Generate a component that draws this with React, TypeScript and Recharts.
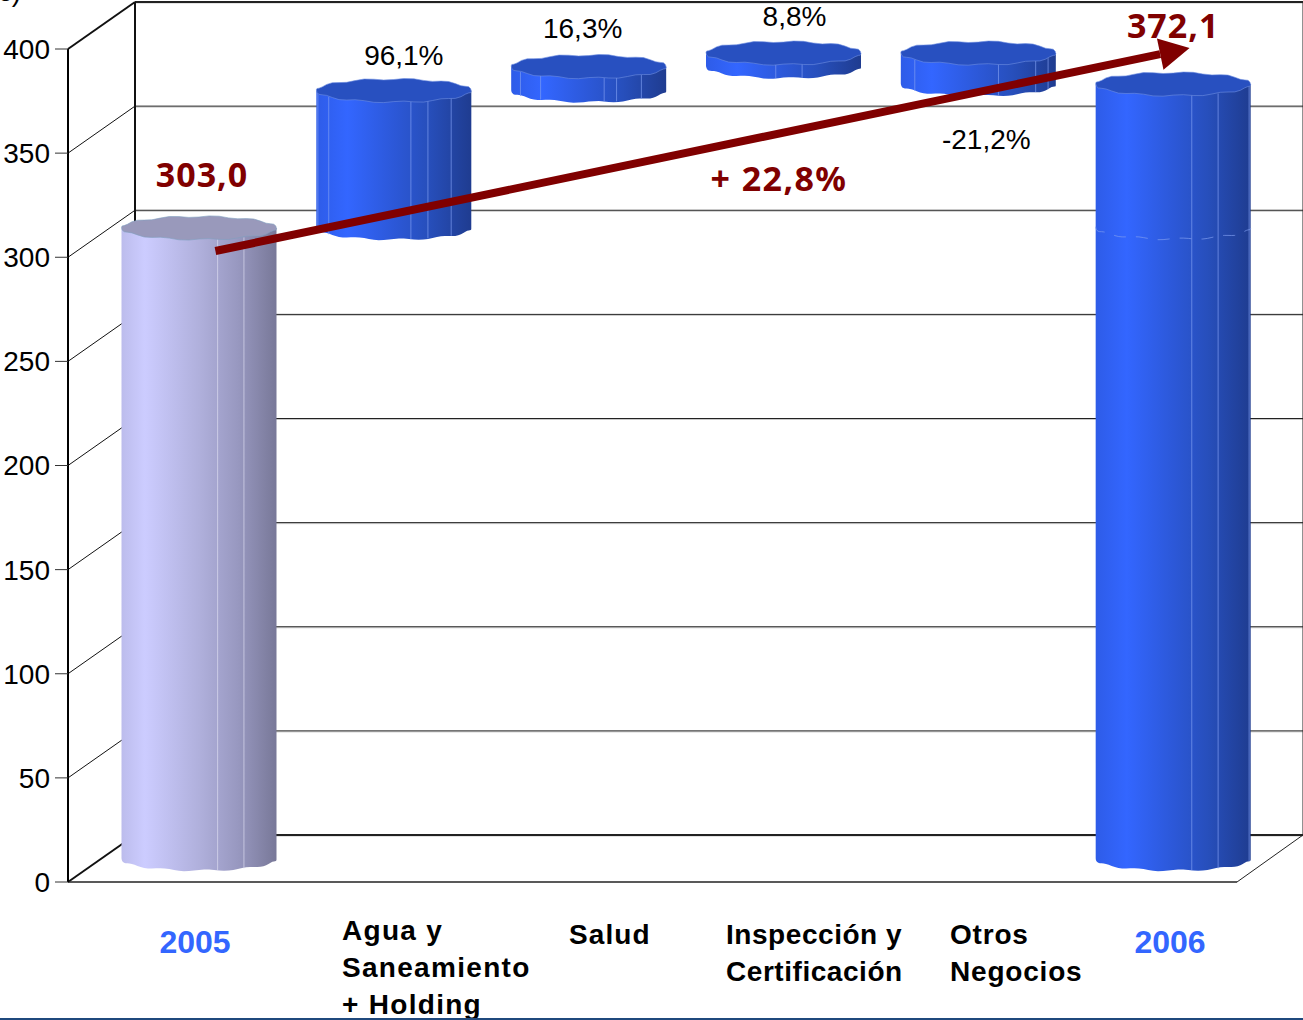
import React from 'react';
import {
  Bar,
  BarChart,
  CartesianGrid,
  LabelList,
  ReferenceLine,
  XAxis,
  YAxis,
} from 'recharts';

const categories = ['2005', 'Agua y|Saneamiento|+ Holding', 'Salud', 'Inspección y|Certificación', 'Otros|Negocios', '2006'];
const barLows = [0, 303, 369, 380.5, 372, 0];
const barHighs = [303, 369, 380.5, 387, 387, 372.1];
const barLabels = ['303,0', '96,1%', '16,3%', '8,8%', '-21,2%', '372,1'];
const yTicks = [0, 50, 100, 150, 200, 250, 300, 350, 400];
const trendValues = [303, 400.5];
const trendLabel = '+ 22,8%';

const chartData = categories.map((name, i) => ({
  name,
  range: [barLows[i], barHighs[i]],
  label: barLabels[i],
}));

// 3d look of the old chart: back wall sits up and to the right of the axes
const DEPTH_X = 67;
const DEPTH_Y = 47;
const RY = 11.5;

// left edge (or centre for the years), first baseline and spacing of each axis label
const tickLayout = [
  { x: 195, y: 953, anchor: 'middle', spacing: 0 },
  { x: 342, y: 940, anchor: 'start', spacing: 1.3 },
  { x: 569, y: 944, anchor: 'start', spacing: 1.1 },
  { x: 726, y: 944, anchor: 'start', spacing: 0.55 },
  { x: 950, y: 944, anchor: 'start', spacing: 0.8 },
  { x: 1170, y: 953, anchor: 'middle', spacing: 0 },
];
const labelLayout = [
  { dx: 3, dy: -54, bold: true },
  { dx: 10, dy: -35, bold: false },
  { dx: -6, dy: -38, bold: false },
  { dx: 11, dy: -36, bold: false },
  { dx: 8, dy: 87, bold: false },
  { dx: 0, dy: -59, bold: true },
];
const facets = [
  [0.62, 0.79],
  [0.01, 0.08, 0.61, 0.72, 0.87],
  [0.06, 0.19, 0.6, 0.68, 0.84],
  [0.45, 0.62],
  [0.09, 0.63, 0.87, 0.95],
  [0.62, 0.79, 0.99],
];

const MAROON = '#800000';
const BOLD_FONT = '"Noto Sans", sans-serif';
const FONT = '"Liberation Sans", Arial, sans-serif';

const outline = (cx: number, cy: number, rx: number, from: number, to: number) => {
  const pts: string[] = [];
  const steps = 48;
  for (let i = 0; i <= steps; i++) {
    const t = from + ((to - from) * i) / steps;
    const wobble = 0.9 * Math.sin(11 * t + 1);
    pts.push(`${(cx + rx * Math.cos(t)).toFixed(1)},${(cy + RY * Math.sin(t) + wobble).toFixed(1)}`);
  }
  return pts;
};

const Cylinder = (props: any) => {
  const { x, y, width, height, index } = props;
  const rx = width / 2;
  const cx = x + rx + DEPTH_X / 2;
  const topY = y - DEPTH_Y / 2 + 0.5;
  const bottomY = topY + height;
  const isTotal = index === 0;
  const isLast = index === 5;
  const body = ['M', `${cx - rx},${topY}`, 'L', ...outline(cx, bottomY, rx, Math.PI, 0), `${cx + rx},${topY}`, 'Z'].join(' ');
  const top = 'M ' + outline(cx, topY, rx, 0, Math.PI * 2).join(' L ') + ' Z';
  return (
    <g>
      <path d={body} fill={isTotal ? 'url(#grey3d)' : 'url(#blue3d)'} />
      {facets[index].map((f) => {
        const fx = cx - rx + f * width;
        const u = (fx - cx) / rx;
        const arc = RY * Math.sqrt(Math.max(0, 1 - u * u));
        return (
          <line
            key={f}
            x1={fx}
            x2={fx}
            y1={topY + arc}
            y2={bottomY + arc}
            stroke={isTotal ? '#dcdcf0' : '#7d9bf0'}
            strokeWidth={1}
            strokeOpacity={0.7}
          />
        );
      })}
      {isLast && (
        <path
          d={'M ' + outline(cx, 858.5 - 303 * 2.0825, rx, Math.PI, 0).join(' L ')}
          fill="none"
          stroke="#7d9bf0"
          strokeWidth={1}
          strokeDasharray="12 10"
          strokeOpacity={0.7}
        />
      )}
      <path d={top} fill={isTotal ? '#9999bb' : '#2850c0'} stroke={isTotal ? '#7f9fc0' : '#6f8fe0'} strokeWidth={0.6} />
    </g>
  );
};

// grid lines are drawn on the back wall, with a diagonal down the side wall
const WallLine = (props: any) => {
  const { x1, x2, y1, index } = props;
  const tick = yTicks[yTicks.length - 1 - index];
  const backY = y1 - DEPTH_Y;
  const isTop = y1 < 60;
  const isFloor = y1 > 870;
  const left = x1 + DEPTH_X;
  const right = x2 + DEPTH_X - 1;
  return (
    <g key={`wall-${tick}-${y1}`}>
      <line x1={left} x2={right} y1={backY + 1} y2={backY + 1} stroke="#c8c8c8" strokeWidth={1} />
      <line x1={left} x2={right} y1={backY} y2={backY} stroke="#222" strokeWidth={isTop || isFloor ? 2 : 1} />
      <line x1={x1} x2={left} y1={y1} y2={backY} stroke="#111" strokeWidth={isTop || isFloor ? 2 : 1} />
      {isTop && (
        <>
          <line x1={left} x2={left} y1={backY} y2={backY + 833} stroke="#111" strokeWidth={2} />
          <line x1={right} x2={right} y1={backY} y2={backY + 833} stroke="#222" strokeWidth={1} />
        </>
      )}
      {isFloor && <line x1={x2} x2={right} y1={y1} y2={backY} stroke="#222" strokeWidth={1} />}
    </g>
  );
};

const CategoryTick = (props: any) => {
  const { payload, index } = props;
  const layout = tickLayout[index];
  const isYear = layout.anchor === 'middle';
  return (
    <text
      textAnchor={layout.anchor}
      fontFamily={FONT}
      fontWeight="bold"
      fontSize={isYear ? 32 : 28}
      letterSpacing={layout.spacing}
      fill={isYear ? '#3366ff' : '#000'}
    >
      {String(payload.value)
        .split('|')
        .map((line, i) => (
          <tspan key={line} x={layout.x} y={layout.y + i * 37}>
            {line}
          </tspan>
        ))}
    </text>
  );
};

const BarLabel = (props: any) => {
  const { x, y, width, value, index } = props;
  const layout = labelLayout[index];
  return (
    <text
      x={x + width / 2 + DEPTH_X / 2 + layout.dx}
      y={y - DEPTH_Y / 2 + layout.dy}
      textAnchor="middle"
      dominantBaseline="central"
      fontFamily={layout.bold ? BOLD_FONT : FONT}
      fontWeight={layout.bold ? 'bold' : 'normal'}
      fontSize={layout.bold ? 34 : 28}
      letterSpacing={layout.bold ? 1 : 0}
      fill={layout.bold ? MAROON : '#000'}
    >
      {value}
    </text>
  );
};

const TrendArrow = (props: any) => {
  const x1 = props.x1 + 50;
  const x2 = props.x2 + 50;
  const { y1, y2 } = props;
  const angle = Math.atan2(y2 - y1, x2 - x1);
  const head = 30;
  const halfHead = 16;
  const bx = x2 - head * Math.cos(angle);
  const by = y2 - head * Math.sin(angle);
  const nx = -Math.sin(angle) * halfHead;
  const ny = Math.cos(angle) * halfHead;
  return (
    <g>
      <line x1={x1} y1={y1} x2={bx} y2={by} stroke={MAROON} strokeWidth={8} />
      <polygon points={`${x2},${y2} ${bx + nx},${by + ny} ${bx - nx},${by - ny}`} fill={MAROON} />
      <text
        x={779}
        y={178}
        textAnchor="middle"
        dominantBaseline="central"
        fontFamily={BOLD_FONT}
        fontWeight="bold"
        fontSize={34}
        letterSpacing={1.4}
        fill={MAROON}
      >
        {trendLabel}
      </text>
    </g>
  );
};

const App = () => {
  return (
    <div style={{ position: 'absolute', left: 0, top: 0, width: 1303, height: 1020, overflow: 'hidden', background: '#fff' }}>
      <BarChart
        width={1303}
        height={1020}
        data={chartData}
        margin={{ top: 49, right: 66, bottom: 0, left: 0 }}
        barCategoryGap={0}
      >
        <defs>
          <linearGradient id="blue3d" x1="0" y1="0" x2="1" y2="0">
            <stop offset="0%" stopColor="#2e5ce8" />
            <stop offset="20%" stopColor="#3366ff" />
            <stop offset="50%" stopColor="#2c58d8" />
            <stop offset="72%" stopColor="#274fbc" />
            <stop offset="100%" stopColor="#1f3c90" />
          </linearGradient>
          <linearGradient id="grey3d" x1="0" y1="0" x2="1" y2="0">
            <stop offset="0%" stopColor="#bcbcec" />
            <stop offset="15%" stopColor="#ccccff" />
            <stop offset="50%" stopColor="#b0b0dc" />
            <stop offset="75%" stopColor="#9898c0" />
            <stop offset="100%" stopColor="#787898" />
          </linearGradient>
        </defs>
        <CartesianGrid vertical={false} horizontal={WallLine} horizontalValues={yTicks} />
        <XAxis
          dataKey="name"
          interval={0}
          height={138}
          tickLine={false}
          axisLine={{ stroke: '#222', strokeWidth: 1.5 }}
          tick={CategoryTick}
        />
        <YAxis
          domain={[0, 400]}
          ticks={yTicks}
          interval={0}
          width={68}
          tickSize={13}
          tickMargin={5}
          axisLine={{ stroke: '#000', strokeWidth: 2 }}
          tickLine={{ stroke: '#333', strokeWidth: 1 }}
          tick={{ fontFamily: FONT, fontSize: 28, fill: '#000' }}
        />
        <Bar dataKey="range" barSize={155} shape={Cylinder} isAnimationActive={false}>
          <LabelList dataKey="label" content={BarLabel} />
        </Bar>
        <ReferenceLine
          segment={[
            { x: categories[0], y: trendValues[0] },
            { x: categories[5], y: trendValues[1] },
          ]}
          shape={TrendArrow}
          ifOverflow="visible"
          zIndex={1000}
        />
      </BarChart>
      <div style={{ position: 'absolute', left: 0, top: 1018, width: 1303, height: 2, background: '#1f497d' }} />
      <svg style={{ position: 'absolute', left: 0, top: 0 }} width={40} height={10}>
        <text x={21} y={1} textAnchor="end" fontFamily={FONT} fontSize={28} fill="#000">
          €)
        </text>
      </svg>
    </div>
  );
};

export default App;
